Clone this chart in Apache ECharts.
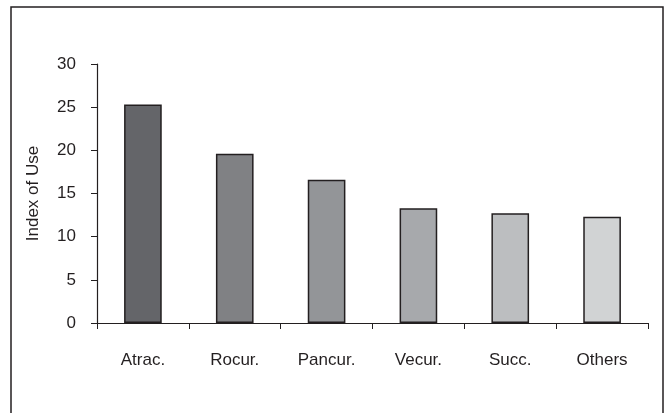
<!DOCTYPE html>
<html>
<head>
<meta charset="utf-8">
<script src="https://cdn.jsdelivr.net/npm/echarts@6/dist/echarts.min.js"></script>
<style>
  html, body { margin: 0; padding: 0; background: #fff; }
  #chart { width: 671px; height: 413px; }
</style>
</head>
<body>
<div id="chart"></div>
<script>
const categories = ["Atrac.", "Rocur.", "Pancur.", "Vecur.", "Succ.", "Others"];
const indexOfUse = [25.3, 19.6, 16.6, 13.3, 12.7, 12.3];
const barColors = ["#646569", "#808184", "#939598", "#a7a9ac", "#bcbec0", "#d1d3d4"];
const yTicks = [0, 5, 10, 15, 20, 25, 30];

const chart = echarts.init(document.getElementById("chart"));
const font = "'Liberation Sans', Arial, sans-serif";

const option = {
  animation: false,
  graphic: [
    {
      type: "rect",
      shape: { x: 11, y: 7, width: 652, height: 410 },
      style: { fill: "none", stroke: "#231f20", lineWidth: 1.5 },
      silent: true
    }
  ],
  grid: { left: 97, right: 23, top: 64, bottom: 90 },
  xAxis: {
    type: "category",
    data: categories,
    axisLine: { lineStyle: { color: "#231f20", width: 1.2 } },
    axisTick: { show: true, length: 6, inside: false, lineStyle: { color: "#231f20" } },
    axisLabel: { color: "#231f20", fontSize: 17, fontFamily: font, margin: 29 }
  },
  yAxis: {
    type: "value",
    min: yTicks[0],
    max: yTicks[yTicks.length - 1],
    interval: 5,
    name: "Index of Use",
    nameLocation: "middle",
    nameGap: 55,
    nameTextStyle: { color: "#231f20", fontSize: 17, fontFamily: font },
    axisLine: { show: true, lineStyle: { color: "#231f20", width: 1.2 } },
    axisTick: { show: true, length: 6, lineStyle: { color: "#231f20" } },
    axisLabel: { color: "#231f20", fontSize: 17, fontFamily: font, margin: 21 },
    splitLine: { show: false }
  },
  series: [
    {
      type: "bar",
      barWidth: "41%",
      data: indexOfUse.map((v, i) => ({
        value: v,
        itemStyle: { color: barColors[i] }
      })),
      itemStyle: { borderColor: "#231f20", borderWidth: 1.5 }
    }
  ]
};

chart.setOption(option);
</script>
</body>
</html>
